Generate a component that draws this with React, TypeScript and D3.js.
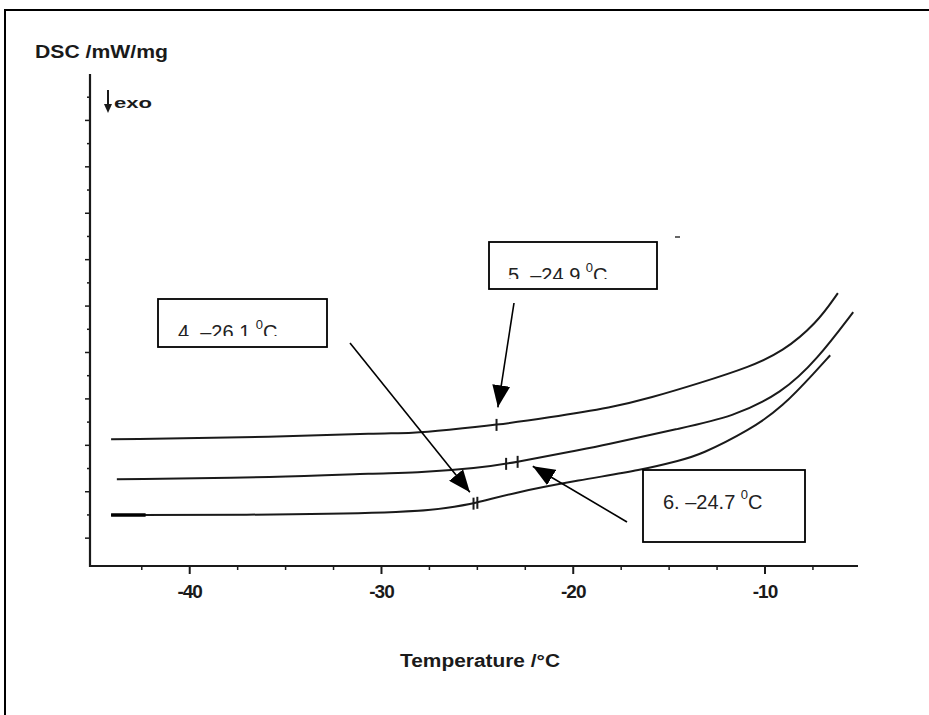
import React, { useEffect, useRef } from 'react';
import * as d3 from 'd3';

// DSC traces (temperature in °C, signal in arbitrary mW/mg units)
const sample4Temp = [-44.1, -35.3, -28.4, -26.6, -25.1, -23.2, -19.7, -16.4, -14.4, -13.4, -10.8, -9.1, -7.3, -6.6];
const sample4Dsc = [0.5, 0.5, 0.56, 0.65, 0.75, 0.97, 1.25, 1.47, 1.68, 1.79, 2.33, 2.82, 3.62, 3.94];

const sample5Temp = [-44.1, -35.3, -30.1, -28.4, -26.6, -24.0, -21.4, -17.9, -16.0, -13.4, -10.8, -9.1, -7.3, -6.2];
const sample5Dsc = [2.13, 2.18, 2.26, 2.26, 2.33, 2.44, 2.59, 2.82, 3.02, 3.34, 3.69, 4.01, 4.63, 5.28];

const sample6Temp = [-43.8, -35.3, -30.1, -28.4, -24.9, -23.2, -19.7, -18.6, -14.4, -11.7, -9.1, -7.3, -5.4];
const sample6Dsc = [1.27, 1.31, 1.4, 1.4, 1.51, 1.62, 1.9, 1.98, 2.37, 2.61, 3.13, 3.84, 4.87];

// onset markers (small crosses on each trace)
const sample4Marks = [-25.2, -25.0];
const sample5Marks = [-24.0];
const sample6Marks = [-23.5, -22.9];

const majorTempTicks = [-40, -30, -20, -10];
const tempDomain = [-45.2, -5.15];
const dscDomain = [-0.6, 10];

const annotationLabels = ['4. \u201326.1 ', '5. \u201324.9 ', '6. \u201324.7 '];
// arrow tips in data coordinates [temp, dsc]
const annotationTips: [number, number][] = [
  [-25.39, 0.99],
  [-23.93, 2.82],
  [-22.11, 1.55],
];

const W = 929;
const H = 715;

export default function App() {
  const svgRef = useRef<SVGSVGElement>(null);

  useEffect(() => {
    if (!svgRef.current) return;
    const root = d3.select(svgRef.current);
    root.selectAll('*').remove();

    const x = d3.scaleLinear().domain(tempDomain).range([90, 858]);
    const y = d3.scaleLinear().domain(dscDomain).range([566, 74]);

    const ink = '#1a1a1a';
    const boldFont = '"Liberation Sans", Arial, sans-serif';

    root.append('rect').attr('width', W).attr('height', H).attr('fill', '#fff');

    const defs = root.append('defs');
    defs
      .append('marker')
      .attr('id', 'head')
      .attr('viewBox', '0 0 22 18')
      .attr('refX', 22)
      .attr('refY', 9)
      .attr('markerWidth', 22)
      .attr('markerHeight', 18)
      .attr('markerUnits', 'userSpaceOnUse')
      .attr('orient', 'auto')
      .append('path')
      .attr('d', 'M0,0 L22,9 L0,18 Z')
      .attr('fill', '#000');

    // page frame (runs off right/bottom)
    root
      .append('rect')
      .attr('x', 5)
      .attr('y', 10)
      .attr('width', 960)
      .attr('height', 760)
      .attr('fill', 'none')
      .attr('stroke', '#000')
      .attr('stroke-width', 2);

    // axes
    const axes = root.append('g').attr('stroke', ink).attr('fill', 'none');
    axes
      .append('path')
      .attr('d', `M${x(tempDomain[0])},${y(dscDomain[1])} V${y(dscDomain[0])} H${x(tempDomain[1])}`)
      .attr('stroke-width', 2.2);

    // x ticks
    d3.range(-42.5, -5, 2.5).forEach((t) => {
      const major = majorTempTicks.includes(t);
      axes
        .append('line')
        .attr('x1', x(t))
        .attr('x2', x(t))
        .attr('y1', y(dscDomain[0]))
        .attr('y2', y(dscDomain[0]) + (major ? 8 : 4))
        .attr('stroke-width', major ? 2 : 1.5);
    });

    // y ticks
    d3.range(0, 10, 0.5).forEach((v) => {
      const major = Number.isInteger(v);
      axes
        .append('line')
        .attr('x1', x(tempDomain[0]))
        .attr('x2', x(tempDomain[0]) - (major ? 5 : 3))
        .attr('y1', y(v))
        .attr('y2', y(v))
        .attr('stroke-width', 1.5);
    });

    root
      .append('g')
      .selectAll('text')
      .data(majorTempTicks)
      .enter()
      .append('text')
      .attr('x', (d) => x(d))
      .attr('y', 598)
      .attr('text-anchor', 'middle')
      .attr('font-family', boldFont)
      .attr('font-weight', 'bold')
      .attr('font-size', 19)
      .attr('letter-spacing', -1)
      .attr('fill', ink)
      .text((d) => `-${Math.abs(d)}`);

    root
      .append('text')
      .attr('x', 400)
      .attr('y', 667)
      .attr('font-family', boldFont)
      .attr('font-weight', 'bold')
      .attr('font-size', 18)
      .attr('textLength', 160)
      .attr('lengthAdjust', 'spacingAndGlyphs')
      .attr('fill', ink)
      .text('Temperature /\u00b0C');

    root
      .append('text')
      .attr('x', 35)
      .attr('y', 58)
      .attr('font-family', boldFont)
      .attr('font-weight', 'bold')
      .attr('font-size', 18)
      .attr('textLength', 133)
      .attr('lengthAdjust', 'spacingAndGlyphs')
      .attr('fill', ink)
      .text('DSC /mW/mg');

    // exo arrow
    root
      .append('line')
      .attr('x1', 108)
      .attr('x2', 108)
      .attr('y1', 90)
      .attr('y2', 106)
      .attr('stroke', ink)
      .attr('stroke-width', 2);
    root.append('path').attr('d', 'M104,104 L112,104 L108,113 Z').attr('fill', ink);
    root
      .append('text')
      .attr('x', 114)
      .attr('y', 108)
      .attr('font-family', boldFont)
      .attr('font-weight', 'bold')
      .attr('font-size', 15)
      .attr('textLength', 38)
      .attr('lengthAdjust', 'spacingAndGlyphs')
      .attr('fill', ink)
      .text('exo');

    // traces
    const series = [
      { temp: sample4Temp, dsc: sample4Dsc, marks: sample4Marks },
      { temp: sample5Temp, dsc: sample5Dsc, marks: sample5Marks },
      { temp: sample6Temp, dsc: sample6Dsc, marks: sample6Marks },
    ];

    const line = d3
      .line<[number, number]>()
      .x((d) => x(d[0]))
      .y((d) => y(d[1]))
      .curve(d3.curveBasis);

    series.forEach((s) => {
      const pts = s.temp.map((t, i) => [t, s.dsc[i]] as [number, number]);
      root
        .append('path')
        .attr('d', line(pts))
        .attr('fill', 'none')
        .attr('stroke', ink)
        .attr('stroke-width', 2);

      const interp = (t: number) => {
        const i = d3.bisectLeft(s.temp, t);
        const t0 = s.temp[i - 1];
        const t1 = s.temp[i];
        return s.dsc[i - 1] + ((t - t0) / (t1 - t0)) * (s.dsc[i] - s.dsc[i - 1]);
      };

      s.marks.forEach((m) => {
        const cy = y(interp(m));
        root
          .append('line')
          .attr('x1', x(m))
          .attr('x2', x(m))
          .attr('y1', cy - 6)
          .attr('y2', cy + 6)
          .attr('stroke', ink)
          .attr('stroke-width', 2);
      });
    });

    // thicker start of lowest trace
    root
      .append('line')
      .attr('x1', x(sample4Temp[0]))
      .attr('x2', x(-42.3))
      .attr('y1', y(sample4Dsc[0]))
      .attr('y2', y(sample4Dsc[0]))
      .attr('stroke', '#000')
      .attr('stroke-width', 3.5);

    // stray scan speck
    root.append('line').attr('x1', 675).attr('x2', 680).attr('y1', 237).attr('y2', 237).attr('stroke', '#333').attr('stroke-width', 1.5);

    // annotation boxes
    const boxes = [
      { x: 158, y: 299, w: 169, h: 48, tx: 178, ty: 339, clip: 336, from: [350, 343] },
      { x: 489, y: 242, w: 168, h: 47, tx: 508, ty: 282, clip: 279, from: [514, 303] },
      { x: 643, y: 470, w: 162, h: 72, tx: 663, ty: 509, clip: 999, from: [627, 522] },
    ];

    boxes.forEach((b, i) => {
      root
        .append('rect')
        .attr('x', b.x)
        .attr('y', b.y)
        .attr('width', b.w)
        .attr('height', b.h)
        .attr('fill', '#fff')
        .attr('stroke', '#000')
        .attr('stroke-width', 1.8);

      defs
        .append('clipPath')
        .attr('id', `clip${i}`)
        .append('rect')
        .attr('x', b.x)
        .attr('y', b.y)
        .attr('width', b.w)
        .attr('height', Math.min(b.clip, b.y + b.h) - b.y);

      const txt = root
        .append('text')
        .attr('clip-path', `url(#clip${i})`)
        .attr('x', b.tx)
        .attr('y', b.ty)
        .attr('font-family', '"Liberation Sans", Arial, sans-serif')
        .attr('font-size', 20)
        .attr('fill', '#222');
      txt.append('tspan').text(annotationLabels[i]);
      txt.append('tspan').attr('font-size', 13).attr('dy', -10).text('0');
      txt.append('tspan').attr('dy', 10).text('C');

      const tip = annotationTips[i];
      root
        .append('line')
        .attr('x1', b.from[0])
        .attr('y1', b.from[1])
        .attr('x2', x(tip[0]))
        .attr('y2', y(tip[1]))
        .attr('stroke', '#000')
        .attr('stroke-width', 1.6)
        .attr('marker-end', 'url(#head)');
    });
  }, []);

  return (
    <svg
      ref={svgRef}
      width={W}
      height={H}
      style={{ position: 'absolute', left: 0, top: 0, display: 'block' }}
    ></svg>
  );
}
